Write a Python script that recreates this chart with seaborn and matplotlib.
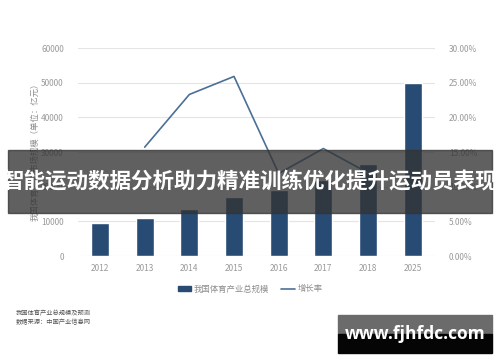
import numpy as np
import pandas as pd
import matplotlib
matplotlib.use("Agg")
import matplotlib.pyplot as plt
from matplotlib.patches import Rectangle
from matplotlib.lines import Line2D
from matplotlib.ticker import FuncFormatter
import seaborn as sns

# 数据
years = ["2012", "2013", "2014", "2015", "2016", "2017", "2018", "2025"]
scale = [9500, 11000, 13600, 17100, 19000, 22000, 26600, 50000]
growth = [np.nan, 15.7, 23.3, 25.9, 11.9, 15.5, 12.0, np.nan]
left_ticks = [0, 10000, 20000, 30000, 40000, 50000, 60000]
right_ticks = [0, 5, 10, 15, 20, 25, 30]

title = "智能运动数据分析助力精准训练优化提升运动员表现"
ylabel = "我国体育产业市场规模（单位：亿元）"
bar_label = "我国体育产业总规模"
line_label = "增长率"
notes = ["我国体育产业总规模及预测", "数据来源：中国产业信息网"]
site = "www.fjhfdc.com"

sns.set_theme(style="white")
plt.rcParams["font.family"] = ["Noto Sans CJK SC", "DejaVu Sans"]

bar_color = "#284b74"
line_color = "#4b6f97"
tick_color = "#9a9a9a"

df = pd.DataFrame({"year": years, "scale": scale, "growth": growth})
df["pos"] = np.arange(len(years))

fig = plt.figure(figsize=(5.0, 3.62), dpi=100)
ax = fig.add_axes([0.1554, 0.2928, 0.7146, 0.5746])

for v in left_ticks[1:]:
    ax.axhline(v, color="#e4e4e4", lw=0.8, zorder=0)
ax.axhline(0, color="#d8d8d8", lw=0.8, zorder=0)

sns.barplot(data=df, x="year", y="scale", color=bar_color, width=0.4,
            saturation=1, ax=ax, zorder=2)
ax.set_xlim(-0.5, len(years) - 0.5)
ax.set_ylim(0, 60000)
ax.set_yticks(left_ticks)
ax.set_xlabel("")
ax.set_ylabel("")
ax.tick_params(axis="both", length=0, labelsize=6, colors=tick_color)
ax.tick_params(axis="y", pad=10)
ax.tick_params(axis="x", pad=6)
for s in ax.spines.values():
    s.set_visible(False)

ax2 = ax.twinx()
sub = df.dropna(subset=["growth"])
sns.lineplot(data=sub, x="pos", y="growth", color=line_color, lw=1.2,
             ax=ax2, legend=False)
ax2.set_ylim(0, 30)
ax2.set_yticks(right_ticks)
ax2.yaxis.set_major_formatter(FuncFormatter(lambda v, p: f"{v:.2f}%"))
ax2.set_ylabel("")
ax2.tick_params(axis="y", length=0, labelsize=6, colors=tick_color, pad=10)
ax2.set_xlim(-0.5, len(years) - 0.5)
for s in ax2.spines.values():
    s.set_visible(False)

fig.text(35 / 500, 1 - 150 / 362, ylabel, rotation=90, ha="center",
         va="center", fontsize=6, color="#8c8c8c")

handles = [Rectangle((0, 0), 1, 1, color=bar_color),
           Line2D([0], [0], color=line_color, lw=1.2)]
fig.legend(handles, [bar_label, line_label], loc="center",
           bbox_to_anchor=(0.5, 1 - 289 / 362), ncol=2, frameon=False,
           fontsize=6, labelcolor="#8c8c8c", handlelength=1.6,
           handleheight=0.6, columnspacing=1.5, handletextpad=0.3)

fig.text(16 / 500, 1 - 313 / 362, notes[0], fontsize=4.5, color="#555555",
         va="center")
fig.text(16 / 500, 1 - 322 / 362, notes[1], fontsize=4.5, color="#555555",
         va="center")

# 标题横幅
fig.patches.append(Rectangle((8 / 500, 1 - 213 / 362), 484 / 500, 63 / 362,
                             transform=fig.transFigure, color="#333333",
                             alpha=0.78, zorder=10))
fig.text(0.5, 1 - 182 / 362, title, ha="center", va="center", fontsize=15.5,
         fontweight="bold", color="white", zorder=11)

# 网址标识
fig.patches.append(Rectangle((338 / 500, 1 - 334 / 362), 154 / 500, 19 / 362,
                             transform=fig.transFigure, color="#6b6b6b",
                             zorder=10))
fig.patches.append(Rectangle((338 / 500, 1 - 353 / 362), 154 / 500, 19 / 362,
                             transform=fig.transFigure, color="#050505",
                             zorder=10))
fig.text(415 / 500, 1 - 334 / 362, site, ha="center", va="center",
         fontsize=12.5, fontweight="bold", color="white", zorder=11,
         family=["Open Sans", "DejaVu Sans"])

fig.savefig("out.png", dpi=100)
